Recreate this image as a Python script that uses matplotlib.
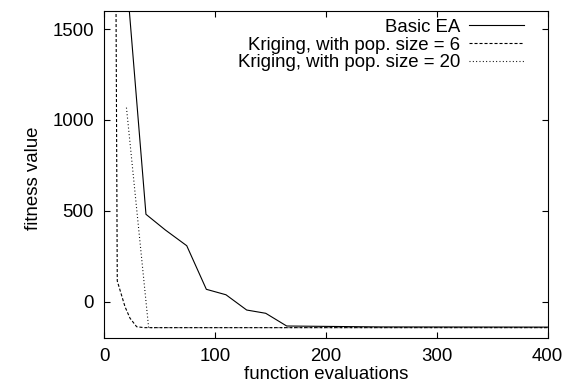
import matplotlib
matplotlib.use("Agg")
import matplotlib.pyplot as plt

plt.rcParams['font.family'] = ['Liberation Sans', 'DejaVu Sans']
plt.rcParams['lines.scale_dashes'] = False

# Data
ea_x = [18.3, 37.6, 55.0, 74.4, 92.1, 109.8, 128.5, 145.7, 164.6, 250, 400]
ea_y = [1920, 481, 395, 308, 68, 38, -46, -64, -134, -139, -140]

k6_x = [6, 11.7, 18.7, 23.2, 29.2, 36, 400]
k6_y = [7800, 114, -28, -91, -138, -143, -143]

k20_x = [20, 40, 400]
k20_y = [1068, -143, -143]

labels = ["Basic EA", "Kriging, with pop. size = 6", "Kriging, with pop. size = 20"]
xticks = [0, 100, 200, 300, 400]
yticks = [0, 500, 1000, 1500]

FS = 13.4

fig = plt.figure(figsize=(5.64, 3.85), dpi=100)
ax = fig.add_axes([104.3 / 564, 1 - 338 / 385, 443.2 / 564, 327 / 385])

lw = 0.8
ax.plot(ea_x, ea_y, color='black', lw=lw, linestyle='-', label=labels[0])
ax.plot(k6_x, k6_y, color='black', lw=lw, linestyle=(0, (2.2, 1.4)), label=labels[1])
ax.plot(k20_x, k20_y, color='black', lw=lw, linestyle=(0, (0.7, 1.7)), label=labels[2])

ax.set_xlim(0, 400)
ax.set_ylim(-200, 1600)
ax.set_xticks(xticks)
ax.set_yticks(yticks)
ax.tick_params(direction='in', length=4, width=0.8, labelsize=FS, pad=7.5,
               top=True, right=True, color='black')
for s in ax.spines.values():
    s.set_linewidth(0.8)

ax.set_xlabel("function evaluations", fontsize=FS)
ax.set_ylabel("fitness value", fontsize=FS)
ax.xaxis.set_label_coords(0.5, -0.086)
ax.yaxis.set_label_coords(-0.14, 0.49)

leg = ax.legend(loc='upper right', bbox_to_anchor=(0.948, 0.977),
                frameon=False, markerfirst=False, fontsize=FS,
                handlelength=3.0, handletextpad=0.45, labelspacing=0.05,
                borderaxespad=0.0, borderpad=0.0)

fig.savefig("out.png", dpi=100)
